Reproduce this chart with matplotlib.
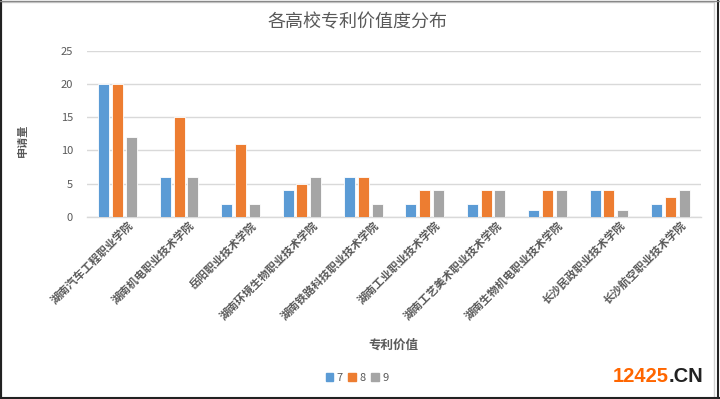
import matplotlib
matplotlib.use("Agg")
import matplotlib.pyplot as plt
import numpy as np
from matplotlib.patches import Rectangle

plt.rcParams['font.family'] = ['Noto Sans CJK SC', 'DejaVu Sans']

categories = ["湖南汽车工程职业学院", "湖南机电职业技术学院", "岳阳职业技术学院",
              "湖南环境生物职业技术学院", "湖南铁路科技职业技术学院", "湖南工业职业技术学院",
              "湖南工艺美术职业技术学院", "湖南生物机电职业技术学院", "长沙民政职业技术学院",
              "长沙航空职业技术学院"]
series_names = ["7", "8", "9"]
s7 = [20, 6, 2, 4, 6, 2, 2, 1, 4, 2]
s8 = [20, 15, 11, 5, 6, 4, 4, 4, 4, 3]
s9 = [12, 6, 2, 6, 2, 4, 4, 4, 1, 4]
colors = ["#5B9BD5", "#ED7D31", "#A5A5A5"]
yticks = [0, 5, 10, 15, 20, 25]

W, H = 720, 399
fig = plt.figure(figsize=(W/100, H/100), dpi=100)
ax = fig.add_axes([87/W, 1-217/H, (701-87)/W, (217-50.5)/H])

x = np.arange(len(categories))
bw = 0.18
gap = 0.045
for i, (vals, c, name) in enumerate(zip([s7, s8, s9], colors, series_names)):
    ax.bar(x + (i-1)*(bw+gap), vals, width=bw, color=c, label=name,
           edgecolor='white', linewidth=0.6, zorder=3)

ax.set_xlim(-0.5, len(categories)-0.5)
ax.set_ylim(0, 25)
ax.set_yticks(yticks)
ax.set_yticklabels([str(v) for v in yticks], fontsize=8, color='#595959')
ax.grid(axis='y', color='#D9D9D9', linewidth=1.0, zorder=0)
for s in ['top', 'right', 'left']:
    ax.spines[s].set_visible(False)
ax.spines['bottom'].set_color('#D9D9D9')
ax.spines['bottom'].set_linewidth(1.0)
ax.tick_params(axis='y', length=0, pad=10)
ax.tick_params(axis='x', length=0, pad=2)
ax.set_xticks(x + 0.16)
ax.set_xticklabels(categories, rotation=45, ha='right', va='top',
                   rotation_mode='anchor', fontsize=8, color='#595959',
                   fontweight='bold')

fig.text(358/W, 1-22/H, "各高校专利价值度分布", ha='center', va='center',
         fontsize=13, color='#595959')
fig.text(22/W, 1-140/H, "申请量", rotation=90, ha='center', va='center',
         fontsize=8, color='#595959', fontweight='bold')
fig.text(393/W, 1-345/H, "专利价值", ha='center', va='center',
         fontsize=9, color='#595959', fontweight='bold')

handles = [Rectangle((0, 0), 1, 1, color=c) for c in colors]
leg = fig.legend(handles, series_names, loc='center', bbox_to_anchor=(357/W, 1-378/H),
                 ncol=3, frameon=False, fontsize=8, handlelength=0.7, handleheight=0.7,
                 handletextpad=0.3, columnspacing=0.5, labelcolor='#595959')

# watermark
t1 = fig.text(613/W, 1-376/H, "12425", ha='left', va='center', fontsize=14.5,
              fontweight='bold', color='#FF6600', family='Liberation Sans')
fig.canvas.draw()
bb = t1.get_window_extent()
fig.text(bb.x1/W, 1-376/H, ".CN", ha='left', va='center', fontsize=14.5,
         fontweight='bold', color='#222222', family='Liberation Sans')

# borders
fig.patches.append(Rectangle((0.5/W, 1.5/H), (714-0.5)/W, (397-1.5)/H, transform=fig.transFigure,
                             fill=False, edgecolor='#D0D0D0', linewidth=1))
fig.add_artist(plt.Line2D([1/W, 1/W], [0, 1], color='#222222', linewidth=1.5, transform=fig.transFigure))
fig.add_artist(plt.Line2D([718/W, 718/W], [0, 1], color='#222222', linewidth=1.5, transform=fig.transFigure))
fig.add_artist(plt.Line2D([0, 1], [1.5/H, 1.5/H], color='#222222', linewidth=1.5, transform=fig.transFigure))
fig.add_artist(plt.Line2D([0, 1], [1-0.5/H, 1-0.5/H], color='#888888', linewidth=1, transform=fig.transFigure))

fig.savefig("out.png", dpi=100)
